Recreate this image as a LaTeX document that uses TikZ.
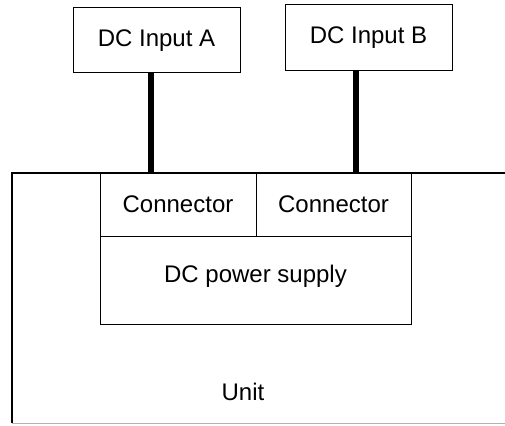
\documentclass[tikz,border=0pt]{standalone}
\usepackage{fontspec}
\setmainfont{Liberation Sans}
\usepackage{tikz}

\begin{document}
\begin{tikzpicture}[x=1pt, y=-1pt,
    box/.style={draw, line width=1pt, inner sep=0pt, font=\fontsize{24}{28}\selectfont},
    cable/.style={line width=6.5pt}]
            \useasboundingbox (0,0) rectangle (505,425);

            % Unit outline
            \draw[line width=1.2pt] (505,173) -- (12,173) -- (12,423);
            \draw[line width=1pt, black!30] (12,423) -- (505,423);
            \node[font=\fontsize{24}{28}\selectfont] (unit) at (243,392) {Unit};

            % DC inputs
            \node[box, minimum width=167pt, minimum height=65pt] (inA) at (156.5,40.5) {DC Input A};
            \node[box, minimum width=167pt, minimum height=66pt] (inB) at (368.5,38) {DC Input B};

            % Connectors and power supply
            \node[box, minimum width=156pt, minimum height=63pt] (conA) at (178,204.5) {Connector};
            \node[box, minimum width=155pt, minimum height=63pt] (conB) at (333.5,204.5) {Connector};
            \node[box, minimum width=311pt, minimum height=88pt, text depth=12pt] (psu) at (255.5,280) {DC power supply};

            % Cables
            \draw[cable] ([xshift=-5.5pt]inA.south) -- ([xshift=-5.5pt]inA.south |- conA.north);
            \draw[cable] ([xshift=-12.5pt]inB.south) -- ([xshift=-12.5pt]inB.south |- conB.north);
\end{tikzpicture}
\end{document}
